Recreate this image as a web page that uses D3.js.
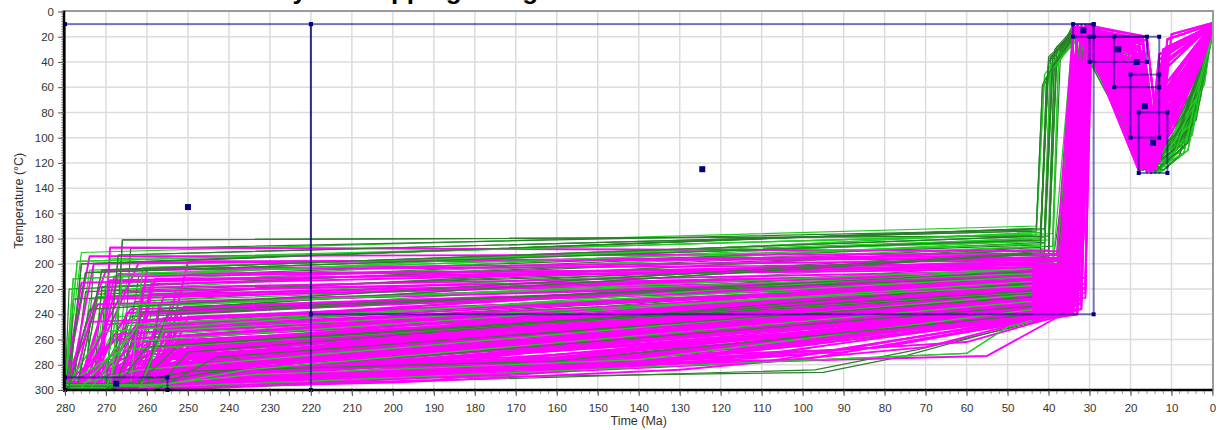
<!DOCTYPE html>
<html>
<head>
<meta charset="utf-8">
<script src="https://cdn.jsdelivr.net/npm/d3@7"></script>
<style>
  body { margin: 0; background: #fff; }
  svg { display: block; font-family: "Liberation Sans", Arial, sans-serif; }
</style>
</head>
<body>
<svg id="chart" width="1221" height="430"></svg>
<script>
// ---------- axis ticks ----------
const timeTicks = [280, 270, 260, 250, 240, 230, 220, 210, 200, 190, 180, 170, 160, 150, 140, 130,
  120, 110, 100, 90, 80, 70, 60, 50, 40, 30, 20, 10, 0];
const tempTicks = [0, 20, 40, 60, 80, 100, 120, 140, 160, 180, 200, 220, 240, 260, 280, 300];

// ---------- constraint boxes: [older Ma, younger Ma, min °C, max °C] ----------
const constraintBoxes = [
  [280, 220, 10, 300],
  [220, 29, 10, 240],
  [280, 255, 290, 300],
  [34, 29, 10, 20],
  [30, 16, 20, 40],
  [24, 13, 20, 60],
  [20, 13, 50, 100],
  [18, 11, 80, 128]
];

// ---------- good paths (magenta), burial stage: vertices as Ma, °C pairs ----------
const goodBurial = [
  [280,297, 271,297, 269,187, 37,190, 34,14],
  [280,299, 276,299, 262,199, 36,195, 33,16],
  [280,296, 280,296, 270,205, 35,200, 32,12],
  [280,298, 265,298, 258,212, 37,204, 34,15],
  [280,300, 278,300, 266,222, 34,207, 31,18],
  [280,295, 262,295, 256,226, 36,210, 33,11],
  [280,299, 280,299, 272,232, 33,212, 31,15],
  [280,297, 268,297, 260,238, 35,214, 32,17],
  [280,294, 258,294, 252,244, 37,216, 33,13],
  [280,298, 275,298, 263,250, 32,218, 30,16],
  [280,300, 280,300, 266,255, 34,220, 31,12],
  [280,296, 259,296, 250,258, 36,222, 34,18],
  [280,299, 270,299, 261,262, 33,224, 32,14],
  [280,297, 256,297, 248,266, 35,225, 30,11],
  [280,295, 280,295, 262,270, 31,227, 30,17],
  [280,298, 264,298, 254,274, 34,228, 31,13],
  [280,300, 257,300, 244,278, 36,230, 32,15],
  [280,296, 272,296, 255,282, 33,232, 31,12],
  [280,299, 261,299, 240,285, 35,234, 30,16],
  [280,297, 255,297, 236,290, 150,276, 32,236, 31,14],
  [280,298, 280,298, 276,215, 37,198, 34,17],
  [280,300, 277,300, 270,228, 35,206, 33,11],
  [280,294, 266,294, 262,240, 34,211, 32,15],
  [280,297, 260,297, 255,248, 36,214, 33,13],
  [280,299, 274,299, 268,256, 33,217, 30,18],
  [280,296, 263,296, 253,263, 31,219, 29.5,14],
  [280,298, 258,298, 249,270, 34,221, 32,16],
  [280,300, 269,300, 252,276, 35,223, 33,12],
  [280,295, 256,295, 242,281, 33,226, 31,15],
  [280,299, 280,299, 258,286, 32,229, 30,17],
  [280,297, 267,297, 245,290, 34,231, 33,13],
  [280,298, 262,298, 232,293, 170,283, 36,233, 34,16],
  [280,300, 279,300, 273,200, 38,193, 34,12],
  [280,296, 273,296, 268,210, 36,201, 33,15],
  [280,299, 265,299, 261,219, 34,205, 31,14],
  [280,297, 259,297, 254,230, 35,209, 32,18],
  [280,298, 276,298, 264,236, 32,213, 30,11],
  [280,294, 257,294, 250,242, 33,215, 31,16],
  [280,300, 270,300, 257,252, 37,218, 34,13],
  [280,296, 280,296, 268,260, 34,220, 32,15],
  [280,299, 261,299, 251,265, 31,223, 30,12],
  [280,297, 256,297, 246,269, 36,224, 33,17],
  [280,298, 271,298, 256,273, 33,227, 31,14],
  [280,300, 264,300, 247,279, 35,229, 32,16],
  [280,295, 258,295, 238,285, 160,274, 32,232, 30,13],
  [280,299, 255,299, 228,291, 110,266, 34,235, 33,15],
  [280,298, 262,298, 250,284, 100,276, 37,240, 34,18],
  [280,297, 257,297, 240,288, 55,273, 36,239, 32,12],
  [280,300, 275,300, 265,280, 120,262, 34,238, 31,15],
  [280,296, 268,296, 245,286, 90,268, 35,237, 33,14],
  [280,299, 260,299, 230,290, 140,272, 33,240, 30,16],
  [280,297, 280,297, 262,277, 32,236, 31,11],
  [280,298, 266,298, 258,275, 34,234, 32,17],
  [280,300, 259,300, 242,279, 36,231, 34,13],
  [280,295, 273,295, 267,208, 35,203, 33,15],
  [280,299, 263,299, 259,224, 33,208, 30,14],
  [280,297, 257,297, 251,234, 34,212, 31,18],
  [280,298, 270,298, 262,245, 31,216, 29.5,12],
  [280,300, 265,300, 256,254, 36,219, 34,16],
  [280,296, 261,296, 252,261, 33,221, 32,13],
  [280,299, 256,299, 244,268, 35,222, 33,15],
  [280,297, 274,297, 260,272, 32,225, 30,17],
  [280,298, 262,298, 248,276, 34,228, 31,11],
  [280,300, 258,300, 240,281, 37,230, 34,14],
  [280,294, 268,294, 252,284, 33,233, 32,16],
  [280,299, 255,299, 210,292, 130,272, 35,236, 33,12],
  [280,297, 278,297, 274,246, 36,217, 34,15],
  [280,298, 269,298, 265,239, 34,213, 31,13],
  [280,300, 260,300, 257,231, 32,210, 30,18],
  [280,296, 257,296, 253,221, 35,207, 32,14],
  [280,299, 272,299, 269,213, 33,202, 31,16],
  [280,297, 264,297, 260,204, 36,197, 33,12],
  [280,298, 280,298, 274,194, 37,192, 34,15],
  [280,300, 266,300, 255,258, 34,218, 33,17],
  [280,295, 259,295, 248,264, 31,220, 30,13],
  [280,299, 270,299, 254,269, 33,223, 32,15],
  [280,297, 262,297, 246,274, 35,226, 34,11],
  [280,298, 256,298, 237,278, 32,228, 31,16],
  [280,300, 277,300, 259,283, 34,231, 33,14],
  [280,296, 263,296, 241,289, 135,270, 36,234, 34,12],
  [280,299, 258,299, 190,292, 100,265, 33,237, 30,15],
  [280,297, 268,297, 250,266, 35,224, 32,17],
  [280,298, 261,298, 243,271, 32,227, 30,13],
  [280,300, 255,300, 235,276, 34,230, 31,16],
  [280,294, 273,294, 262,251, 36,219, 33,14],
  [280,299, 266,299, 256,243, 33,215, 32,12],
  [280,297, 259,297, 252,236, 31,211, 30,15],
  [280,298, 276,298, 270,226, 34,206, 33,17],
  [280,300, 264,300, 259,216, 37,200, 34,13],
  [280,296, 257,296, 250,198, 35,196, 32,16],
  [280,299, 262,299, 245,262, 120,238, 35,226, 33,14],
  [280,297, 270,297, 258,288, 180,262, 34,238, 31,16],
  [280,298, 265,298, 252,270, 36,212, 33,12],
  [280,300, 260,300, 238,276, 150,250, 33,230, 30,15],
  [280,296, 274,296, 250,289, 200,270, 36,235, 34,13],
  [280,299, 268,299, 244,283, 35,208, 32,17],
  [280,297, 262,297, 226,292, 160,268, 34,228, 31,12],
  [280,298, 257,298, 248,256, 33,214, 30,16],
  [280,300, 276,300, 268,285, 210,262, 37,232, 34,14],
  [280,295, 266,295, 240,279, 36,220, 33,18],
  [280,299, 259,299, 232,288, 120,258, 35,234, 32,13],
  [280,297, 271,297, 260,266, 34,205, 31,15],
  [280,298, 263,298, 246,274, 180,246, 33,222, 30,11],
  [280,300, 256,300, 220,290, 140,266, 36,238, 34,16],
  [280,296, 278,296, 266,279, 37,215, 33,14],
  [280,299, 265,299, 234,286, 170,270, 34,233, 31,17],
  [280,297, 258,297, 244,268, 32,209, 30,13],
  [280,298, 272,298, 255,287, 90,255, 36,236, 33,15],
  [280,300, 261,300, 250,276, 35,224, 32,12],
  [280,295, 267,295, 238,290, 200,278, 33,240, 31,16],
  [280,299, 257,299, 245,281, 37,229, 34,14],
  [280,297, 274,297, 262,259, 34,210, 31,18],
  [280,298, 264,298, 228,289, 150,262, 35,228, 33,12],
  [280,300, 269,300, 256,284, 110,252, 32,231, 30,15],
  [280,296, 259,296, 247,266, 36,217, 34,13],
  [280,299, 277,299, 270,248, 33,203, 31,16],
  [280,297, 263,297, 218,293, 130,270, 34,237, 32,14],
  [280,298, 256,298, 240,283, 37,233, 33,17],
  [280,300, 270,300, 252,272, 190,250, 35,219, 31,12],
  [280,295, 262,295, 236,287, 34,238, 32,15],
  [280,299, 273,299, 263,270, 36,225, 34,11],
  [280,297, 258,297, 242,279, 160,258, 33,227, 30,16],
  [280,298, 266,298, 248,289, 120,264, 35,239, 33,13],
  [280,300, 260,300, 253,262, 32,221, 31,17],
  [280,296, 275,296, 258,282, 200,258, 37,226, 34,14],
  [280,299, 264,299, 224,291, 34,235, 32,12],
  [280,297, 268,297, 257,276, 140,245, 36,218, 33,15],
  [280,298, 257,298, 235,284, 33,232, 30,13],
  [280,300, 271,300, 246,287, 180,272, 35,234, 31,17],
  [280,296, 261,296, 244,275, 36,227, 34,14],
  [280,298, 266,298, 240,292, 150,280, 60,262, 36,240, 33,15],
  [280,300, 258,300, 215,294, 120,276, 34,238, 31,13],
  [280,297, 272,297, 248,291, 190,286, 80,266, 35,239, 32,16],
  [280,299, 262,299, 230,294, 170,288, 100,272, 37,240, 34,12],
  [280,296, 269,296, 244,290, 160,282, 33,236, 30,17],
  [280,298, 255,298, 200,294, 130,284, 70,266, 36,238, 33,14],
  [280,300, 276,300, 255,292, 180,283, 34,239, 31,15],
  [280,297, 260,297, 225,293, 140,279, 35,237, 32,13],
  [280,299, 267,299, 236,291, 200,287, 90,270, 33,240, 30,16],
  [280,296, 257,296, 210,293, 110,278, 36,239, 34,14],
  [280,298, 271,298, 250,287, 160,276, 37,231, 33,12],
  [280,300, 263,300, 238,289, 130,276, 34,232, 31,16],
  [280,297, 259,297, 220,292, 150,283, 35,240, 32,15],
  [280,299, 274,299, 258,289, 120,270, 33,233, 30,13],
  [280,296, 265,296, 232,290, 180,281, 36,236, 33,17]
];

// ---------- good paths, Neogene reheating and final cooling ----------
const goodReheat = [
  [27,35, 18,118, 9,72, 0,12],
  [24,30, 16,105, 6,55, 0,10],
  [20,26, 15,112, 12,30, 0,11],
  [26,48, 17,125, 8,80, 2,35, 0,14],
  [18,24, 14,98, 12,35, 0,9],
  [25,40, 16,120, 6,60, 0,13],
  [22,33, 15,108, 4,42, 0,12],
  [27,50, 18,122, 10,85, 0,15],
  [17,21, 14,115, 11,22, 0,10],
  [23,45, 16,100, 7,58, 0,11],
  [26,38, 17,110, 5,50, 0,14],
  [21,30, 13,95, 9,50, 0,12],
  [19,35, 15,125, 9,80, 3,38, 0,10],
  [24,55, 18,112, 7,62, 0,13],
  [28,42, 17,118, 5,45, 0,16],
  [16,23, 13,105, 11,28, 0,11],
  [22,60, 16,127, 8,72, 0,12],
  [25,33, 15,90, 8,52, 0,9],
  [20,40, 14,122, 7,65, 0,14],
  [24.5,62, 18,100, 7,50, 0,12],
  [18,28, 15,115, 12,60, 0,10],
  [23,36, 16,95, 6,48, 0,15],
  [27,44, 17,124, 6,60, 0,13],
  [21,48, 14,110, 10,70, 3,30, 0,11],
  [17,26, 13,120, 12,40, 0,12],
  [24,42, 16,108, 4,38, 0,14],
  [19,32, 15,100, 10,56, 0,10],
  [25,58, 18,118, 9,78, 2,30, 0,12],
  [22,38, 16,126, 11,90, 4,45, 0,16],
  [28,36, 17,92, 8,44, 0,11],
  [20,22, 15,105, 12,32, 0,13],
  [26,52, 17,115, 7,58, 0,12],
  [23,28, 14,88, 5,40, 0,10],
  [18,34, 14,118, 8,68, 0,14],
  [23,65, 18,108, 5,48, 0,12],
  [21,42, 16,122, 9,70, 3,35, 0,11],
  [16,20, 13,112, 10,18, 0,9],
  [27,46, 17,102, 6,42, 0,15],
  [22,52, 15,128, 10,88, 4,44, 0,13],
  [25,36, 16,96, 10,60, 0,12],
  [19,44, 14,106, 8,60, 0,10],
  [26,40, 18,124, 11,92, 5,50, 0,14],
  [20,30, 15,116, 13,38, 0,12],
  [23,58, 17,120, 7,66, 0,11],
  [28,48, 16,112, 9,70, 0,13],
  [17,24, 14,94, 12,34, 0,10],
  [24,46, 16,118, 6,62, 0,12],
  [21,36, 15,102, 10,64, 2,26, 0,15],
  [27,54, 18,126, 10,96, 6,64, 0,13],
  [18,30, 13,108, 11,40, 0,11],
  [25,34, 16,90, 6,36, 0,12],
  [22,44, 14,125, 9,82, 3,40, 0,14],
  [19,26, 15,98, 13,34, 0,10],
  [25,56, 17,110, 9,68, 0,12],
  [23,40, 16,116, 5,50, 0,13],
  [20,50, 14,120, 8,72, 0,11],
  [28,40, 17,104, 7,46, 0,15],
  [17,32, 15,122, 12,82, 4,36, 0,12],
  [24,38, 16,100, 11,44, 0,10],
  [21,54, 18,114, 8,52, 0,14]
];

// ---------- acceptable paths (green), burial stage ----------
const acceptableBurial = [
  [280,300, 280,300, 278,212, 42,175, 40,42, 34,12],
  [280,298, 275,298, 273,200, 41,172, 39.5,36, 33,15],
  [280,297, 280,297, 276,191, 43,170, 41,50, 32,11],
  [280,299, 268,299, 266,181, 40,178, 38.5,30, 34,14],
  [280,296, 278,296, 274,205, 42,180, 40,45, 31,17],
  [280,300, 272,300, 270,216, 41,183, 39,38, 33,13],
  [280,298, 280,298, 277,198, 39,176, 37.5,28, 30,16],
  [280,295, 266,295, 262,210, 42,185, 40.5,55, 34,10],
  [280,299, 274,299, 271,221, 40,181, 38,34, 32,15],
  [280,297, 270,297, 267,193, 43,174, 41.5,60, 33,18],
  [280,298, 276,298, 272,226, 41,188, 39,40, 31,12],
  [280,300, 280,300, 279,220, 39,186, 37,26, 34,16],
  [280,296, 264,296, 261,203, 42,182, 40,44, 32,13],
  [280,299, 269,299, 263,230, 40,190, 38.5,32, 30,14],
  [280,297, 273,297, 270,214, 41,179, 39.5,48, 33,11],
  [280,298, 260,298, 257,236, 42,192, 40,36, 34,17],
  [280,300, 277,300, 268,242, 40,195, 38,30, 31,15],
  [280,295, 265,295, 259,248, 38,198, 32,10],
  [280,299, 280,299, 271,254, 37,202, 33,14],
  [280,297, 262,297, 255,260, 36,206, 30,18],
  [280,298, 272,298, 264,265, 38,210, 34,13],
  [280,300, 258,300, 250,270, 35,213, 32,16],
  [280,296, 268,296, 257,275, 37,216, 31,11],
  [280,299, 263,299, 248,280, 34,219, 33,15],
  [280,297, 279,297, 262,284, 36,222, 34,12],
  [280,298, 257,298, 240,287, 35,225, 30,16],
  [280,300, 270,300, 252,282, 38,228, 32,14],
  [280,295, 261,295, 244,286, 34,231, 33,17],
  [280,299, 266,299, 238,290, 130,274, 37,234, 31,13],
  [280,297, 259,297, 230,292, 95,286, 75,273, 38,240, 34,15],
  [280,298, 262,298, 220,293, 60,271, 50,250, 36,238, 32,12],
  [280,300, 256,300, 205,294, 97,284, 72,268, 35,240, 33,16],
  [280,296, 274,296, 266,245, 37,214, 30,14],
  [280,299, 268,299, 261,238, 36,209, 34,11],
  [280,297, 264,297, 258,229, 38,204, 32,15],
  [280,298, 278,298, 275,222, 39,199, 31,18],
  [280,300, 271,300, 267,233, 37,207, 33,13],
  [280,295, 259,295, 254,251, 36,212, 34,16],
  [280,299, 275,299, 269,258, 35,217, 30,12],
  [280,297, 263,297, 252,264, 37,220, 32,15],
  [280,298, 267,298, 256,271, 34,223, 33,14],
  [280,300, 260,300, 246,277, 36,226, 31,17],
  [280,296, 280,296, 266,268, 35,221, 34,13],
  [280,299, 265,299, 258,255, 38,215, 32,16],
  [280,297, 270,297, 265,249, 36,211, 30,11],
  [280,298, 262,298, 255,240, 37,205, 33,15],
  [280,300, 277,300, 274,228, 39,196, 37.5,34, 31,14],
  [280,295, 273,295, 271,218, 40,189, 38,40, 34,18],
  [280,299, 269,299, 266,208, 41,184, 39,46, 32,12],
  [280,297, 279,297, 278,228, 42,187, 40.5,52, 33,15],
  [280,298, 264,298, 253,262, 36,218, 30,13],
  [280,300, 258,300, 243,274, 35,224, 34,16],
  [280,296, 271,296, 255,279, 37,227, 32,14],
  [280,299, 266,299, 245,283, 34,230, 31,12],
  [280,297, 261,297, 235,288, 140,276, 36,233, 33,17],
  [280,298, 256,298, 225,291, 120,278, 38,236, 34,15],
  [280,300, 280,300, 270,276, 36,229, 30,13],
  [280,295, 267,295, 260,266, 37,222, 32,16],
  [280,299, 274,299, 263,252, 35,216, 33,11],
  [280,297, 262,297, 251,246, 38,213, 31,15],
  [280,298, 270,298, 262,234, 39,203, 34,14],
  [280,300, 276,300, 272,224, 40,194, 38,28, 32,17],
  [280,296, 268,296, 265,215, 41,186, 39.5,42, 30,12],
  [280,299, 280,299, 275,207, 42,181, 40,38, 33,16],
  [280,297, 272,297, 269,196, 43,177, 41,54, 31,13],
  [280,298, 266,298, 264,188, 41,173, 39,35, 34,15],
  [280,300, 262,300, 256,253, 36,216, 32,14],
  [280,295, 257,295, 247,269, 37,225, 30,16],
  [280,299, 275,299, 257,280, 35,231, 33,12],
  [280,297, 269,297, 249,285, 160,277, 34,237, 31,15],
  [280,299, 271,299, 260,272, 150,250, 36,224, 33,14],
  [280,297, 263,297, 244,288, 37,235, 31,16],
  [280,298, 276,298, 266,262, 35,212, 32,12],
  [280,300, 259,300, 247,280, 170,262, 34,229, 30,15],
  [280,296, 268,296, 251,270, 38,218, 34,13],
  [280,299, 279,299, 274,236, 41,191, 39,44, 33,17],
  [280,297, 265,297, 232,290, 110,262, 36,236, 32,14],
  [280,298, 258,298, 242,276, 35,226, 31,12],
  [280,300, 274,300, 262,248, 37,209, 34,16],
  [280,295, 262,295, 226,292, 140,270, 33,238, 30,13],
  [280,299, 270,299, 255,283, 36,230, 32,15],
  [280,297, 277,297, 271,205, 42,178, 40,40, 33,11],
  [280,298, 261,298, 250,258, 35,214, 31,17],
  [280,300, 267,300, 240,286, 180,266, 37,233, 34,14],
  [280,296, 256,296, 236,284, 34,227, 32,12],
  [280,299, 273,299, 264,242, 38,207, 33,16],
  [280,297, 264,297, 246,274, 36,221, 30,13],
  [280,298, 279,298, 276,200, 43,172, 41.5,58, 34,15],
  [280,300, 260,300, 214,293, 120,272, 35,237, 31,14],
  [280,296, 270,296, 257,266, 37,216, 33,18]
];

// ---------- acceptable paths, Neogene reheating and final cooling ----------
const acceptableReheat = [
  [26,50, 19,110, 14,126, 7,108, 0,14],
  [25,58, 18,122, 6,96, 0,18],
  [24,40, 17,115, 12,120, 5,85, 0,12],
  [27,46, 21,90, 16,128, 4,70, 0,16],
  [23,62, 18,118, 8,100, 2,45, 0,12],
  [28,44, 22,82, 15,125, 6,92, 0,15],
  [20,30, 14,118, 9,105, 3,60, 0,13],
  [26,54, 20,100, 13,127, 5,90, 0,19],
  [24,66, 18,126, 10,108, 1,30, 0,11],
  [27,40, 19,98, 12,122, 7,95, 0,14],
  [25,52, 21,88, 17,120, 3,55, 0,17],
  [22,46, 16,124, 8,112, 2,40, 0,10],
  [26,60, 19,104, 14,128, 6,100, 0,13],
  [23,36, 15,110, 4,75, 0,12],
  [28,48, 23,74, 17,126, 9,110, 0,15],
  [24,56, 18,112, 11,124, 5,82, 0,11],
  [21,34, 16,118, 7,98, 1,35, 0,14],
  [27,55, 20,95, 15,127, 3,65, 0,16],
  [25,45, 17,122, 10,115, 4,60, 0,12],
  [18,28, 13,126, 6,104, 0,20],
  [26,64, 21,92, 16,125, 8,106, 0,13],
  [23,50, 18,120, 12,112, 2,50, 0,15],
  [27,42, 22,78, 18,127, 7,102, 0,11],
  [24,60, 19,108, 14,124, 5,95, 0,17],
  [20,38, 15,122, 9,100, 3,48, 0,12],
  [25,48, 20,96, 13,128, 6,110, 0,14],
  [28,38, 24,66, 17,124, 4,78, 0,10],
  [22,58, 17,116, 10,104, 1,28, 0,13],
  [26,52, 21,86, 16,126, 7,96, 0,16],
  [23,44, 18,124, 11,118, 3,70, 0,12],
  [24,62, 19,112, 12,126, 8,114, 0,18],
  [19,32, 14,120, 5,88, 0,11],
  [27,50, 22,84, 15,127, 9,108, 0,14],
  [25,66, 20,104, 14,122, 2,58, 0,13],
  [21,40, 16,120, 8,94, 0,15],
  [28,46, 23,80, 18,126, 6,100, 0,12],
  [24,54, 18,114, 13,124, 4,86, 0,16],
  [26,44, 21,94, 15,128, 7,112, 0,10],
  [22,36, 17,118, 10,96, 2,44, 0,13],
  [25,58, 19,106, 12,120, 5,98, 0,14],
  [27,40, 23,70, 16,124, 3,62, 0,12],
  [20,44, 15,126, 9,110, 1,32, 0,17],
  [26,56, 20,98, 14,127, 6,104, 0,11],
  [23,48, 18,122, 11,112, 4,72, 0,15],
  [24,42, 17,110, 13,118, 8,92, 0,13]
];

// ---------- layout ----------
const svg = d3.select("#chart");
const x = d3.scaleLinear().domain([280, 0]).range([65, 1212.5]);
const y = d3.scaleLinear().domain([0, 300]).range([11.5, 390]);
const [x0, x1] = x.range();
const [y0, y1] = y.range();

// title (sits mostly above the frame, only its descenders show)
svg.append("text")
  .attr("x", 112).attr("y", -1)
  .attr("font-size", 26).attr("font-weight", "bold").attr("fill", "#000")
  .text("Thermal history overlapping and good");

// grid
const grid = svg.append("g").attr("stroke", "#dcdcdc").attr("stroke-width", 1.5);
grid.selectAll("line.v").data(timeTicks.slice(1, -1)).join("line")
  .attr("x1", d => x(d)).attr("x2", d => x(d)).attr("y1", y0).attr("y2", y1);
grid.selectAll("line.h").data(tempTicks.slice(1, -1)).join("line")
  .attr("x1", x0).attr("x2", x1).attr("y1", d => y(d)).attr("y2", d => y(d));

// clips: whole plot, and the burial part only (older than 44 Ma)
const defs = svg.append("defs");
defs.append("clipPath").attr("id", "plot")
  .append("rect").attr("x", x0).attr("y", y0).attr("width", x1 - x0).attr("height", y1 - y0);
defs.append("clipPath").attr("id", "burial")
  .append("rect").attr("x", x0).attr("y", y0).attr("width", x(44) - x0).attr("height", y1 - y0);

const toPairs = flat => d3.range(0, flat.length, 2).map(i => [flat[i], flat[i + 1]]);
const line = d3.line().x(d => x(d[0])).y(d => y(d[1]));

const greens = ["#1fcf1f", "#2a7f2a"];
const acceptable = acceptableBurial.map((row, i) => ({
  pts: toPairs(row).concat(toPairs(acceptableReheat[i % acceptableReheat.length])),
  color: greens[i % 2], width: 1.2
}));
const good = goodBurial.map((row, i) => ({
  pts: toPairs(row).concat(toPairs(goodReheat[i % goodReheat.length])),
  color: "#ff00ff", width: 1.9
}));

function drawPaths(data, clipId) {
  svg.append("g").attr("clip-path", `url(#${clipId})`).attr("fill", "none")
    .selectAll("path").data(data).join("path")
    .attr("d", d => line(d.pts))
    .attr("stroke", d => d.color)
    .attr("stroke-width", d => d.width)
    .attr("stroke-linejoin", "round");
}
drawPaths(acceptable, "plot");
drawPaths(good, "plot");
// a share of the acceptable paths shows through the burial-stage mass
drawPaths(acceptable.filter((d, i) => i % 3 === 0), "burial");

// constraint boxes
const boxes = svg.append("g");
boxes.selectAll("rect.box").data(constraintBoxes).join("rect")
  .attr("class", "box")
  .attr("x", d => x(d[0])).attr("y", d => y(d[2]))
  .attr("width", d => x(d[1]) - x(d[0])).attr("height", d => y(d[3]) - y(d[2]))
  .attr("fill", "none").attr("stroke", "#000080").attr("stroke-opacity", 0.55).attr("stroke-width", 2);
const corners = constraintBoxes.flatMap(d => [[d[0], d[2]], [d[1], d[2]], [d[0], d[3]], [d[1], d[3]]]);
boxes.selectAll("rect.corner").data(corners).join("rect")
  .attr("class", "corner")
  .attr("x", d => x(d[0]) - 2).attr("y", d => y(d[1]) - 2)
  .attr("width", 4).attr("height", 4).attr("fill", "#000080");
boxes.selectAll("rect.centre").data(constraintBoxes).join("rect")
  .attr("class", "centre")
  .attr("x", d => x((d[0] + d[1]) / 2) - 3).attr("y", d => y((d[2] + d[3]) / 2) - 3)
  .attr("width", 6).attr("height", 6).attr("fill", "#000080");

// frame: grey top/right, black axes left/bottom
svg.append("line").attr("x1", x0).attr("x2", x1 + 1).attr("y1", y0 - 0.5).attr("y2", y0 - 0.5)
  .attr("stroke", "#9a9a9a").attr("stroke-width", 2);
svg.append("line").attr("x1", x1 + 0.5).attr("x2", x1 + 0.5).attr("y1", y0 - 1.5).attr("y2", y1)
  .attr("stroke", "#9a9a9a").attr("stroke-width", 2);

// minor ticks
const minor = svg.append("g").attr("stroke", "#9a9a9a").attr("stroke-width", 1);
minor.selectAll("line.mx").data(d3.range(0, 281, 2)).join("line")
  .attr("x1", d => x(d)).attr("x2", d => x(d)).attr("y1", y1).attr("y2", y1 + 4);
minor.selectAll("line.my").data(d3.range(0, 301, 2)).join("line")
  .attr("x1", x0 - 4).attr("x2", x0).attr("y1", d => y(d)).attr("y2", d => y(d));

// axes
const xAxis = svg.append("g").attr("transform", `translate(0,${y1})`)
  .call(d3.axisBottom(x).tickValues(timeTicks).tickFormat(d3.format("d")).tickSize(6).tickPadding(8));
const yAxis = svg.append("g").attr("transform", `translate(${x0 - 1},0)`)
  .call(d3.axisLeft(y).tickValues(tempTicks).tickFormat(d3.format("d")).tickSize(6).tickPadding(4));
[xAxis, yAxis].forEach(g => {
  g.select(".domain").attr("stroke", "#000").attr("stroke-width", 2.5);
  g.selectAll(".tick line").attr("stroke", "#555");
  g.selectAll(".tick text").attr("font-size", 11.5).attr("fill", "#333")
    .attr("font-family", "'Liberation Sans', Arial, sans-serif");
});
xAxis.select(".domain").attr("d", `M${x0 - 2},0H${x1}`);
yAxis.select(".domain").attr("d", `M0,${y0 - 1}V${y1 + 1}`);

// axis titles
svg.append("text").attr("x", (x0 + x1) / 2).attr("y", 425).attr("text-anchor", "middle")
  .attr("font-size", 12.5).attr("fill", "#333").text("Time (Ma)");
svg.append("text").attr("transform", `translate(23,${(y0 + y1) / 2}) rotate(-90)`)
  .attr("text-anchor", "middle").attr("font-size", 12.5).attr("fill", "#333")
  .text("Temperature (°C)");
</script>
</body>
</html>
